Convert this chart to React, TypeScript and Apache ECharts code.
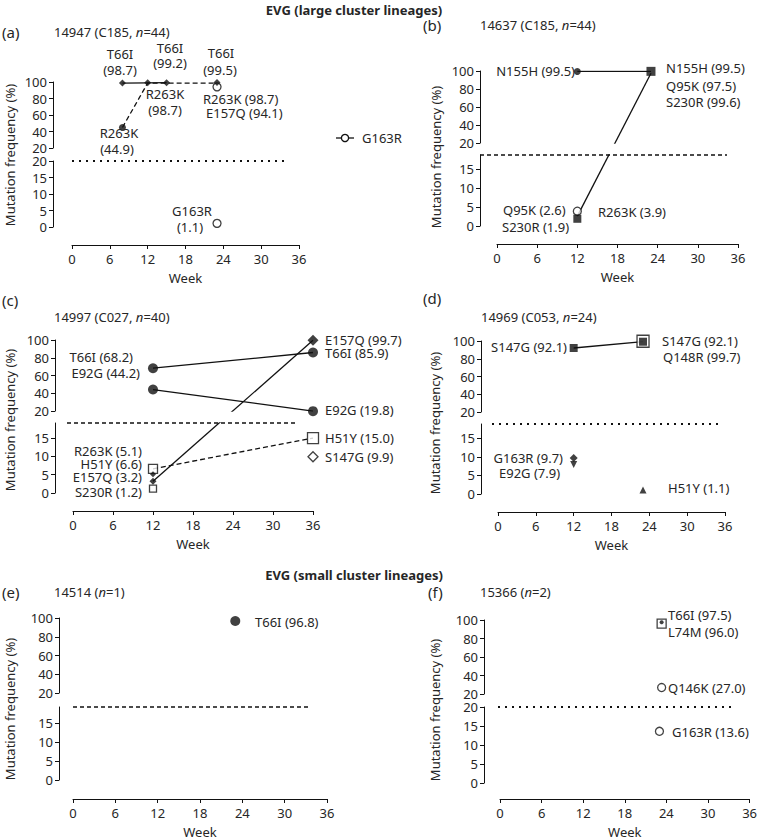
import React, { useEffect, useRef } from "react";
import * as echarts from "echarts";

type Pt = [number, number];

const weekTicks = [0, 6, 12, 18, 24, 30, 36];
const upperTicks = [20, 40, 60, 80, 100];
const lowerTicksTo20 = [0, 5, 10, 15, 20];
const lowerTicksTo15 = [0, 5, 10, 15];

// (a) 14947 (C185, n=44)
const a_T66I: Pt[] = [[8, 98.7], [12, 99.0], [15, 99.2]];
const a_T66I_w23: Pt[] = [[23, 99.5]];
const a_R263K: Pt[] = [[8, 44.9], [12, 98.7], [15, 98.7], [23, 98.7]];
const a_E157Q: Pt[] = [[23, 94.1]];
const a_G163R: Pt[] = [[23, 1.1]];
// (b) 14637 (C185, n=44)
const b_N155H: Pt[] = [[12, 99.5], [23, 99.5]];
const b_Q95K: Pt[] = [[12, 2.6], [23, 97.5]];
const b_R263K: Pt[] = [[12, 3.9]];
const b_S230R: Pt[] = [[12, 1.9], [23, 99.6]];
// (c) 14997 (C027, n=40)
const c_T66I: Pt[] = [[12, 68.2], [36, 85.9]];
const c_E92G: Pt[] = [[12, 44.2], [36, 19.8]];
const c_E157Q: Pt[] = [[12, 3.2], [36, 99.7]];
const c_H51Y: Pt[] = [[12, 6.6], [36, 15.0]];
const c_R263K: Pt[] = [[12, 5.1]];
const c_S230R: Pt[] = [[12, 1.2]];
const c_S147G: Pt[] = [[36, 9.9]];
// (d) 14969 (C053, n=24)
const d_S147G: Pt[] = [[12, 92.1], [23, 99.2]];
const d_Q148R: Pt[] = [[23, 99.7]];
const d_G163R: Pt[] = [[12, 9.7]];
const d_E92G: Pt[] = [[12, 7.9]];
const d_H51Y: Pt[] = [[23, 1.1]];
// (e) 14514 (n=1)
const e_T66I: Pt[] = [[23, 96.8]];
// (f) 15366 (n=2)
const f_L74M: Pt[] = [[23, 96.0]];
const f_T66I: Pt[] = [[23, 97.5]];
const f_Q146K: Pt[] = [[23, 27.0]];
const f_G163R: Pt[] = [[23, 13.6]];

const INK = "#111";
const TXT = "#262626";
const FONT = "'Noto Sans', 'DejaVu Sans', sans-serif";
const FS = 13;

interface Geo {
  yAxisX: number; x0: number; x36: number;
  upTop: number; upBot: number; loTop: number; loBot: number; L: number; xAxisY: number;
}
interface Trace {
  data: Pt[]; line?: "solid" | "dashed"; symbol?: string; sizes?: number[];
  open?: boolean; rotate?: number; marks?: number[];
}
interface Panel {
  geo: Geo; lowerTicks: number[]; brk: "dotted" | "dashed"; brkX: [number, number];
  traces: Trace[];
}

const THR = 19.5;
function yPix(g: Geo, v: number) {
  return v > THR
    ? g.upBot - ((v - 20) * (g.upBot - g.upTop)) / 80
    : g.loBot - (v * (g.loBot - g.loTop)) / g.L;
}
function toUp(g: Geo, v: number) {
  return 20 + ((g.upBot - yPix(g, v)) * 80) / (g.upBot - g.upTop);
}
function toLo(g: Geo, v: number) {
  return ((g.loBot - yPix(g, v)) * g.L) / (g.loBot - g.loTop);
}

const panels: Panel[] = [
  {
    geo: { yAxisX: 53, x0: 72, x36: 299, upTop: 82, upBot: 148, loTop: 161, loBot: 227, L: 20, xAxisY: 245 },
    lowerTicks: lowerTicksTo20, brk: "dotted", brkX: [72, 287],
    traces: [
      { data: a_R263K, line: "dashed", symbol: "circle", sizes: [7, 0, 0, 0], marks: [0] },
      { data: a_T66I, line: "solid", symbol: "diamond", sizes: [7, 7, 7] },
      { data: a_E157Q, symbol: "circle", sizes: [8], open: true },
      { data: a_T66I_w23, symbol: "diamond", sizes: [7] },
      { data: a_G163R, symbol: "circle", sizes: [8], open: true },
    ],
  },
  {
    geo: { yAxisX: 480, x0: 497, x36: 738, upTop: 71, upBot: 143, loTop: 155, loBot: 226, L: 18.7, xAxisY: 244 },
    lowerTicks: lowerTicksTo15, brk: "dashed", brkX: [480, 727],
    traces: [
      { data: b_N155H, line: "solid", symbol: "circle", sizes: [7, 0], marks: [0] },
      { data: b_Q95K, line: "solid", marks: [] },
      { data: b_R263K, symbol: "circle", sizes: [8], open: true },
      { data: b_S230R, symbol: "rect", sizes: [8, 9] },
    ],
  },
  {
    geo: { yAxisX: 55, x0: 73, x36: 313, upTop: 340, upBot: 411, loTop: 423, loBot: 493, L: 19.1, xAxisY: 511 },
    lowerTicks: lowerTicksTo15, brk: "dashed", brkX: [67, 298],
    traces: [
      { data: c_T66I, line: "solid", symbol: "circle", sizes: [10, 10] },
      { data: c_E92G, line: "solid", symbol: "circle", sizes: [10, 10] },
      { data: c_H51Y, line: "dashed", symbol: "rect", sizes: [9, 11], open: true },
      { data: c_E157Q, line: "solid", symbol: "diamond", sizes: [7, 11] },
      { data: c_R263K, symbol: "diamond", sizes: [6] },
      { data: c_S230R, symbol: "rect", sizes: [7], open: true },
      { data: c_S147G, symbol: "diamond", sizes: [10], open: true },
    ],
  },
  {
    geo: { yAxisX: 481, x0: 498, x36: 725, upTop: 341, upBot: 412, loTop: 424, loBot: 494, L: 18.8, xAxisY: 512 },
    lowerTicks: lowerTicksTo15, brk: "dotted", brkX: [492, 720],
    traces: [
      { data: d_Q148R, symbol: "rect", sizes: [12], open: true },
      { data: d_S147G, line: "solid", symbol: "rect", sizes: [8, 8] },
      { data: d_G163R, symbol: "diamond", sizes: [8] },
      { data: d_E92G, symbol: "triangle", sizes: [7], rotate: 180 },
      { data: d_H51Y, symbol: "triangle", sizes: [7] },
    ],
  },
  {
    geo: { yAxisX: 59, x0: 73, x36: 327, upTop: 618, upBot: 693, loTop: 707, loBot: 780, L: 19.2, xAxisY: 799 },
    lowerTicks: lowerTicksTo15, brk: "dashed", brkX: [73, 310],
    traces: [{ data: e_T66I, symbol: "circle", sizes: [10] }],
  },
  {
    geo: { yAxisX: 484, x0: 500, x36: 753, upTop: 620, upBot: 694, loTop: 707, loBot: 783, L: 20, xAxisY: 799 },
    lowerTicks: lowerTicksTo20, brk: "dotted", brkX: [498, 735],
    traces: [
      { data: f_L74M, symbol: "rect", sizes: [9], open: true },
      { data: f_T66I, symbol: "circle", sizes: [4] },
      { data: f_Q146K, symbol: "circle", sizes: [8], open: true },
      { data: f_G163R, symbol: "circle", sizes: [8], open: true },
    ],
  },
];

function txt(x: number, y: number, s: string, align = "left", extra: any = {}) {
  return {
    type: "text", x, y, silent: true, z: 10,
    style: {
      text: s, fill: TXT, font: `${extra.weight || "normal"} ${extra.size || FS}px ${FONT}`,
      fontFamily: FONT, fontSize: extra.size || FS, fontWeight: extra.weight || "normal",
      textAlign: align, textVerticalAlign: "middle", rich: extra.rich,
    },
  };
}
const italicRich = { i: { fontStyle: "italic", fontFamily: FONT, fontSize: FS, fill: TXT } };

const annotations = [
  // (a)
  txt(120, 54, "T66I", "center"), txt(120, 70, "(98.7)", "center"),
  txt(170, 48, "T66I", "center"), txt(170, 63, "(99.2)", "center"),
  txt(221, 53, "T66I", "center"), txt(220, 70, "(99.5)", "center"),
  txt(165, 94, "R263K", "center"), txt(165, 110, "(98.7)", "center"),
  txt(203, 99, "R263K (98.7)"), txt(206, 113, "E157Q (94.1)"),
  txt(119, 133, "R263K", "center"), txt(117, 149, "(44.9)", "center"),
  txt(192, 211, "G163R", "center"), txt(190, 227, "(1.1)", "center"),
  txt(362, 138, "G163R"),
  // (b)
  txt(575, 71, "N155H (99.5)", "right"),
  txt(666, 68, "N155H (99.5)"), txt(666, 86, "Q95K (97.5)"), txt(666, 102, "S230R (99.6)"),
  txt(503, 210, "Q95K (2.6)"), txt(502, 227, "S230R (1.9)"), txt(598, 212, "R263K (3.9)"),
  // (c)
  txt(133, 357, "T66I (68.2)", "right"), txt(140, 373, "E92G (44.2)", "right"),
  txt(325, 340, "E157Q (99.7)"), txt(325, 353, "T66I (85.9)"), txt(325, 410, "E92G (19.8)"),
  txt(325, 438, "H51Y (15.0)"), txt(325, 457, "S147G (9.9)"),
  txt(142, 451, "R263K (5.1)", "right"), txt(142, 464, "H51Y (6.6)", "right"),
  txt(142, 477, "E157Q (3.2)", "right"), txt(142, 492, "S230R (1.2)", "right"),
  // (d)
  txt(567, 347, "S147G (92.1)", "right"), txt(662, 341, "S147G (92.1)"), txt(663, 357, "Q148R (99.7)"),
  txt(563, 458, "G163R (9.7)", "right"), txt(499, 473, "E92G (7.9)"), txt(668, 488, "H51Y (1.1)"),
  // (e)
  txt(255, 622, "T66I (96.8)"),
  // (f)
  txt(668, 615, "T66I (97.5)"), txt(668, 632, "L74M (96.0)"),
  txt(668, 688, "Q146K (27.0)"), txt(672, 732, "G163R (13.6)"),
  // headers
  txt(354, 10, "EVG (large cluster lineages)", "center", { weight: "bold" }),
  txt(354, 575, "EVG (small cluster lineages)", "center", { weight: "bold" }),
  txt(2, 32, "(a)", "left", { size: 15 }), txt(423, 25, "(b)", "left", { size: 15 }),
  txt(2, 300, "(c)", "left", { size: 15 }), txt(423, 298, "(d)", "left", { size: 15 }),
  txt(2, 592, "(e)", "left", { size: 15 }), txt(428, 592, "(f)", "left", { size: 15 }),
  txt(54, 32, "14947 (C185, {i|n}=44)", "left", { rich: italicRich }),
  txt(480, 25, "14637 (C185, {i|n}=44)", "left", { rich: italicRich }),
  txt(54, 317, "14997 (C027, {i|n}=40)", "left", { rich: italicRich }),
  txt(481, 317, "14969 (C053, {i|n}=24)", "left", { rich: italicRich }),
  txt(54, 592, "14514 ({i|n}=1)", "left", { rich: italicRich }),
  txt(480, 592, "15366 ({i|n}=2)", "left", { rich: italicRich }),
];

const yNamePos: [number, number][] = [[10, 155], [436, 157], [10, 420], [435, 423], [10, 709], [435, 710]];

function buildOption() {
  const grid: any[] = [];
  const xAxis: any[] = [];
  const yAxis: any[] = [];
  const series: any[] = [];
  const graphic: any[] = [...annotations];

  const axisLabelStyle = { color: TXT, fontSize: FS, fontFamily: FONT };

  panels.forEach((p, i) => {
    const g = p.geo;
    const up = 2 * i;
    const lo = 2 * i + 1;
    const w = g.x36 - g.x0;
    grid.push({ left: g.x0, top: g.upTop, width: w, height: g.upBot - g.upTop });
    grid.push({ left: g.x0, top: g.loTop, width: w, height: g.loBot - g.loTop });
    xAxis.push({ gridIndex: up, type: "value", min: 0, max: 36, show: false });
    xAxis.push({
      gridIndex: lo, type: "value", min: 0, max: 36, interval: 6, position: "bottom",
      offset: g.xAxisY - g.loBot,
      axisLine: { show: true, onZero: false, lineStyle: { color: INK, width: 1 } },
      axisTick: { show: true, length: 4, lineStyle: { color: INK }, customValues: weekTicks },
      axisLabel: { ...axisLabelStyle, margin: 7, customValues: weekTicks },
      splitLine: { show: false },
      name: "Week", nameLocation: "middle", nameGap: 26,
      nameTextStyle: { color: TXT, fontSize: FS, fontFamily: FONT },
    });
    const yCommon = {
      type: "value", offset: g.x0 - g.yAxisX,
      axisLine: { show: true, onZero: false, lineStyle: { color: INK, width: 1 } },
      splitLine: { show: false },
    };
    yAxis.push({
      ...yCommon, gridIndex: up, min: 20, max: 100, interval: 20,
      axisTick: { show: true, length: 4, lineStyle: { color: INK }, customValues: upperTicks },
      axisLabel: { ...axisLabelStyle, margin: 6, customValues: upperTicks },
    });
    yAxis.push({
      ...yCommon, gridIndex: lo, min: 0, max: g.L,
      axisTick: { show: true, length: 4, lineStyle: { color: INK }, customValues: p.lowerTicks },
      axisLabel: { ...axisLabelStyle, margin: 6, customValues: p.lowerTicks },
    });

    // break line at the top of the lower part
    const dotted = p.brk === "dotted";
    graphic.push({
      type: "line", silent: true, z: 1,
      shape: { x1: p.brkX[0], y1: g.loTop, x2: p.brkX[1], y2: g.loTop },
      style: { stroke: INK, lineWidth: dotted ? 2 : 1.5, lineDash: dotted ? [2, 5] : [4, 3] },
    });
    graphic.push({
      type: "text", x: yNamePos[i][0], y: yNamePos[i][1], rotation: Math.PI / 2, silent: true,
      style: {
        text: "Mutation frequency (%)", fill: TXT, fontFamily: FONT, fontSize: FS,
        textAlign: "center", textVerticalAlign: "middle",
      },
    });

    p.traces.forEach((tr) => {
      if (tr.line) {
        [up, lo].forEach((gi) => {
          const f = gi === up ? toUp : toLo;
          series.push({
            type: "line", xAxisIndex: gi, yAxisIndex: gi, silent: true, z: 2,
            data: tr.data.map(([wk, v]) => [wk, f(g, v)]),
            symbol: "none", showSymbol: false, clip: true, animation: false,
            lineStyle: { color: INK, width: 1.3, type: tr.line === "dashed" ? [5, 3] : "solid" },
          });
        });
      }
      if (!tr.symbol) return;
      const marks = tr.marks ?? tr.data.map((_, k) => k);
      const upPts: number[][] = [];
      const loPts: number[][] = [];
      marks.forEach((k) => {
        const [wk, v] = tr.data[k];
        (v > THR ? upPts : loPts).push([wk, v, k]);
      });
      [[up, upPts], [lo, loPts]].forEach(([gi, pts]: any) => {
        if (!pts.length) return;
        series.push({
          type: "scatter", xAxisIndex: gi, yAxisIndex: gi, silent: true, z: 3, clip: false,
          data: pts, symbol: tr.symbol, symbolRotate: tr.rotate || 0,
          symbolSize: (val: number[]) => (tr.sizes ? tr.sizes[val[2]] : 7),
          itemStyle: tr.open
            ? { color: "#fff", borderColor: INK, borderWidth: 1.3 }
            : { color: INK, borderColor: INK, borderWidth: 0 },
        });
      });
    });
  });

  // legend for G163R in panel (a)
  graphic.push({
    type: "line", silent: true, shape: { x1: 336, y1: 138, x2: 354, y2: 138 },
    style: { stroke: INK, lineWidth: 1.3 },
  });
  graphic.push({
    type: "circle", silent: true, z: 5, shape: { cx: 345, cy: 138, r: 3.6 },
    style: { fill: "#fff", stroke: INK, lineWidth: 1.3 },
  });

  return {
    animation: false,
    backgroundColor: "#fff",
    textStyle: { fontFamily: FONT },
    grid, xAxis, yAxis, series, graphic,
  };
}

export default function App() {
  const ref = useRef<HTMLDivElement>(null);
  useEffect(() => {
    document.body.style.margin = "0";
    if (!ref.current) return;
    const chart = echarts.init(ref.current, undefined, { renderer: "svg" });
    chart.setOption(buildOption() as any);
    return () => chart.dispose();
  }, []);
  return <div ref={ref} style={{ width: 760, height: 839, position: "absolute", left: 0, top: 0 }} />;
}
